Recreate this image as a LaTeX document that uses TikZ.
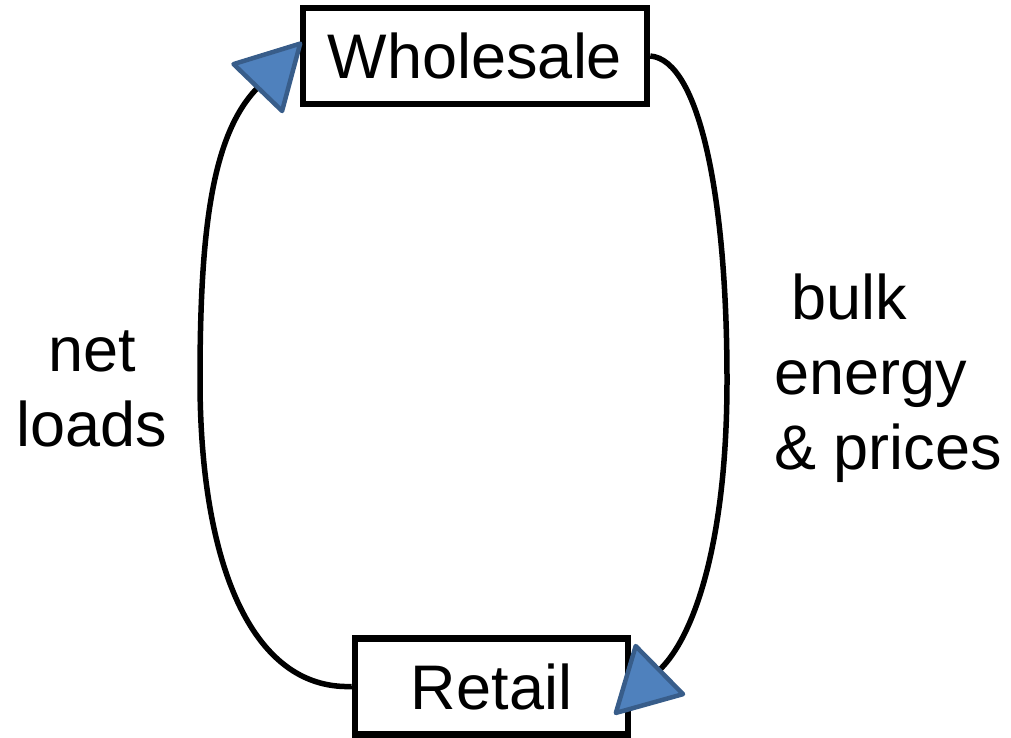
\documentclass[tikz,border=0pt]{standalone}
\usepackage{fontspec}
\setmainfont{Liberation Sans}
\usetikzlibrary{arrows.meta}
\definecolor{arrowfill}{RGB}{79,129,189}
\definecolor{arrowline}{RGB}{56,93,138}
\begin{document}
\begin{tikzpicture}[x=1pt,y=-1pt,
  box/.style={draw=black,line width=6.5pt,fill=white,inner sep=0pt,font=\fontsize{63}{75}\selectfont},
  lbl/.style={inner sep=0pt,font=\fontsize{63}{75}\selectfont},
  flow/.style={line width=5.5pt,draw=black,-{Triangle[length=68pt,width=74pt,fill=arrowfill,color=arrowline,line width=4.5pt,round]}}]
\useasboundingbox (0,0) rectangle (1011,738);
\node[box,minimum width=344pt,minimum height=96pt] (W) at (475,56) {Wholesale};
\node[box,minimum width=273pt,minimum height=96pt] (R) at (491.5,686.5) {Retail};
\coordinate (wt) at ([xshift=2pt,yshift=14pt]W.west);
\coordinate (rt) at ([xshift=-17pt,yshift=-28pt]R.east);
\draw[flow] (R.west) .. controls (250,690) and (200,560) .. (200,380) .. controls (200,230) and (212,135) .. (wt);
\draw[flow] (W.east) .. controls (700,60) and (727,200) .. (727,380) .. controls (727,540) and (695,635) .. (rt);
\node[lbl,align=center] (nl) at (92,389) {net\\loads};
\node[lbl,align=left,anchor=west] (be) at (774,378) {\hphantom{ }bulk\\energy\\\& prices};
\end{tikzpicture}
\end{document}
